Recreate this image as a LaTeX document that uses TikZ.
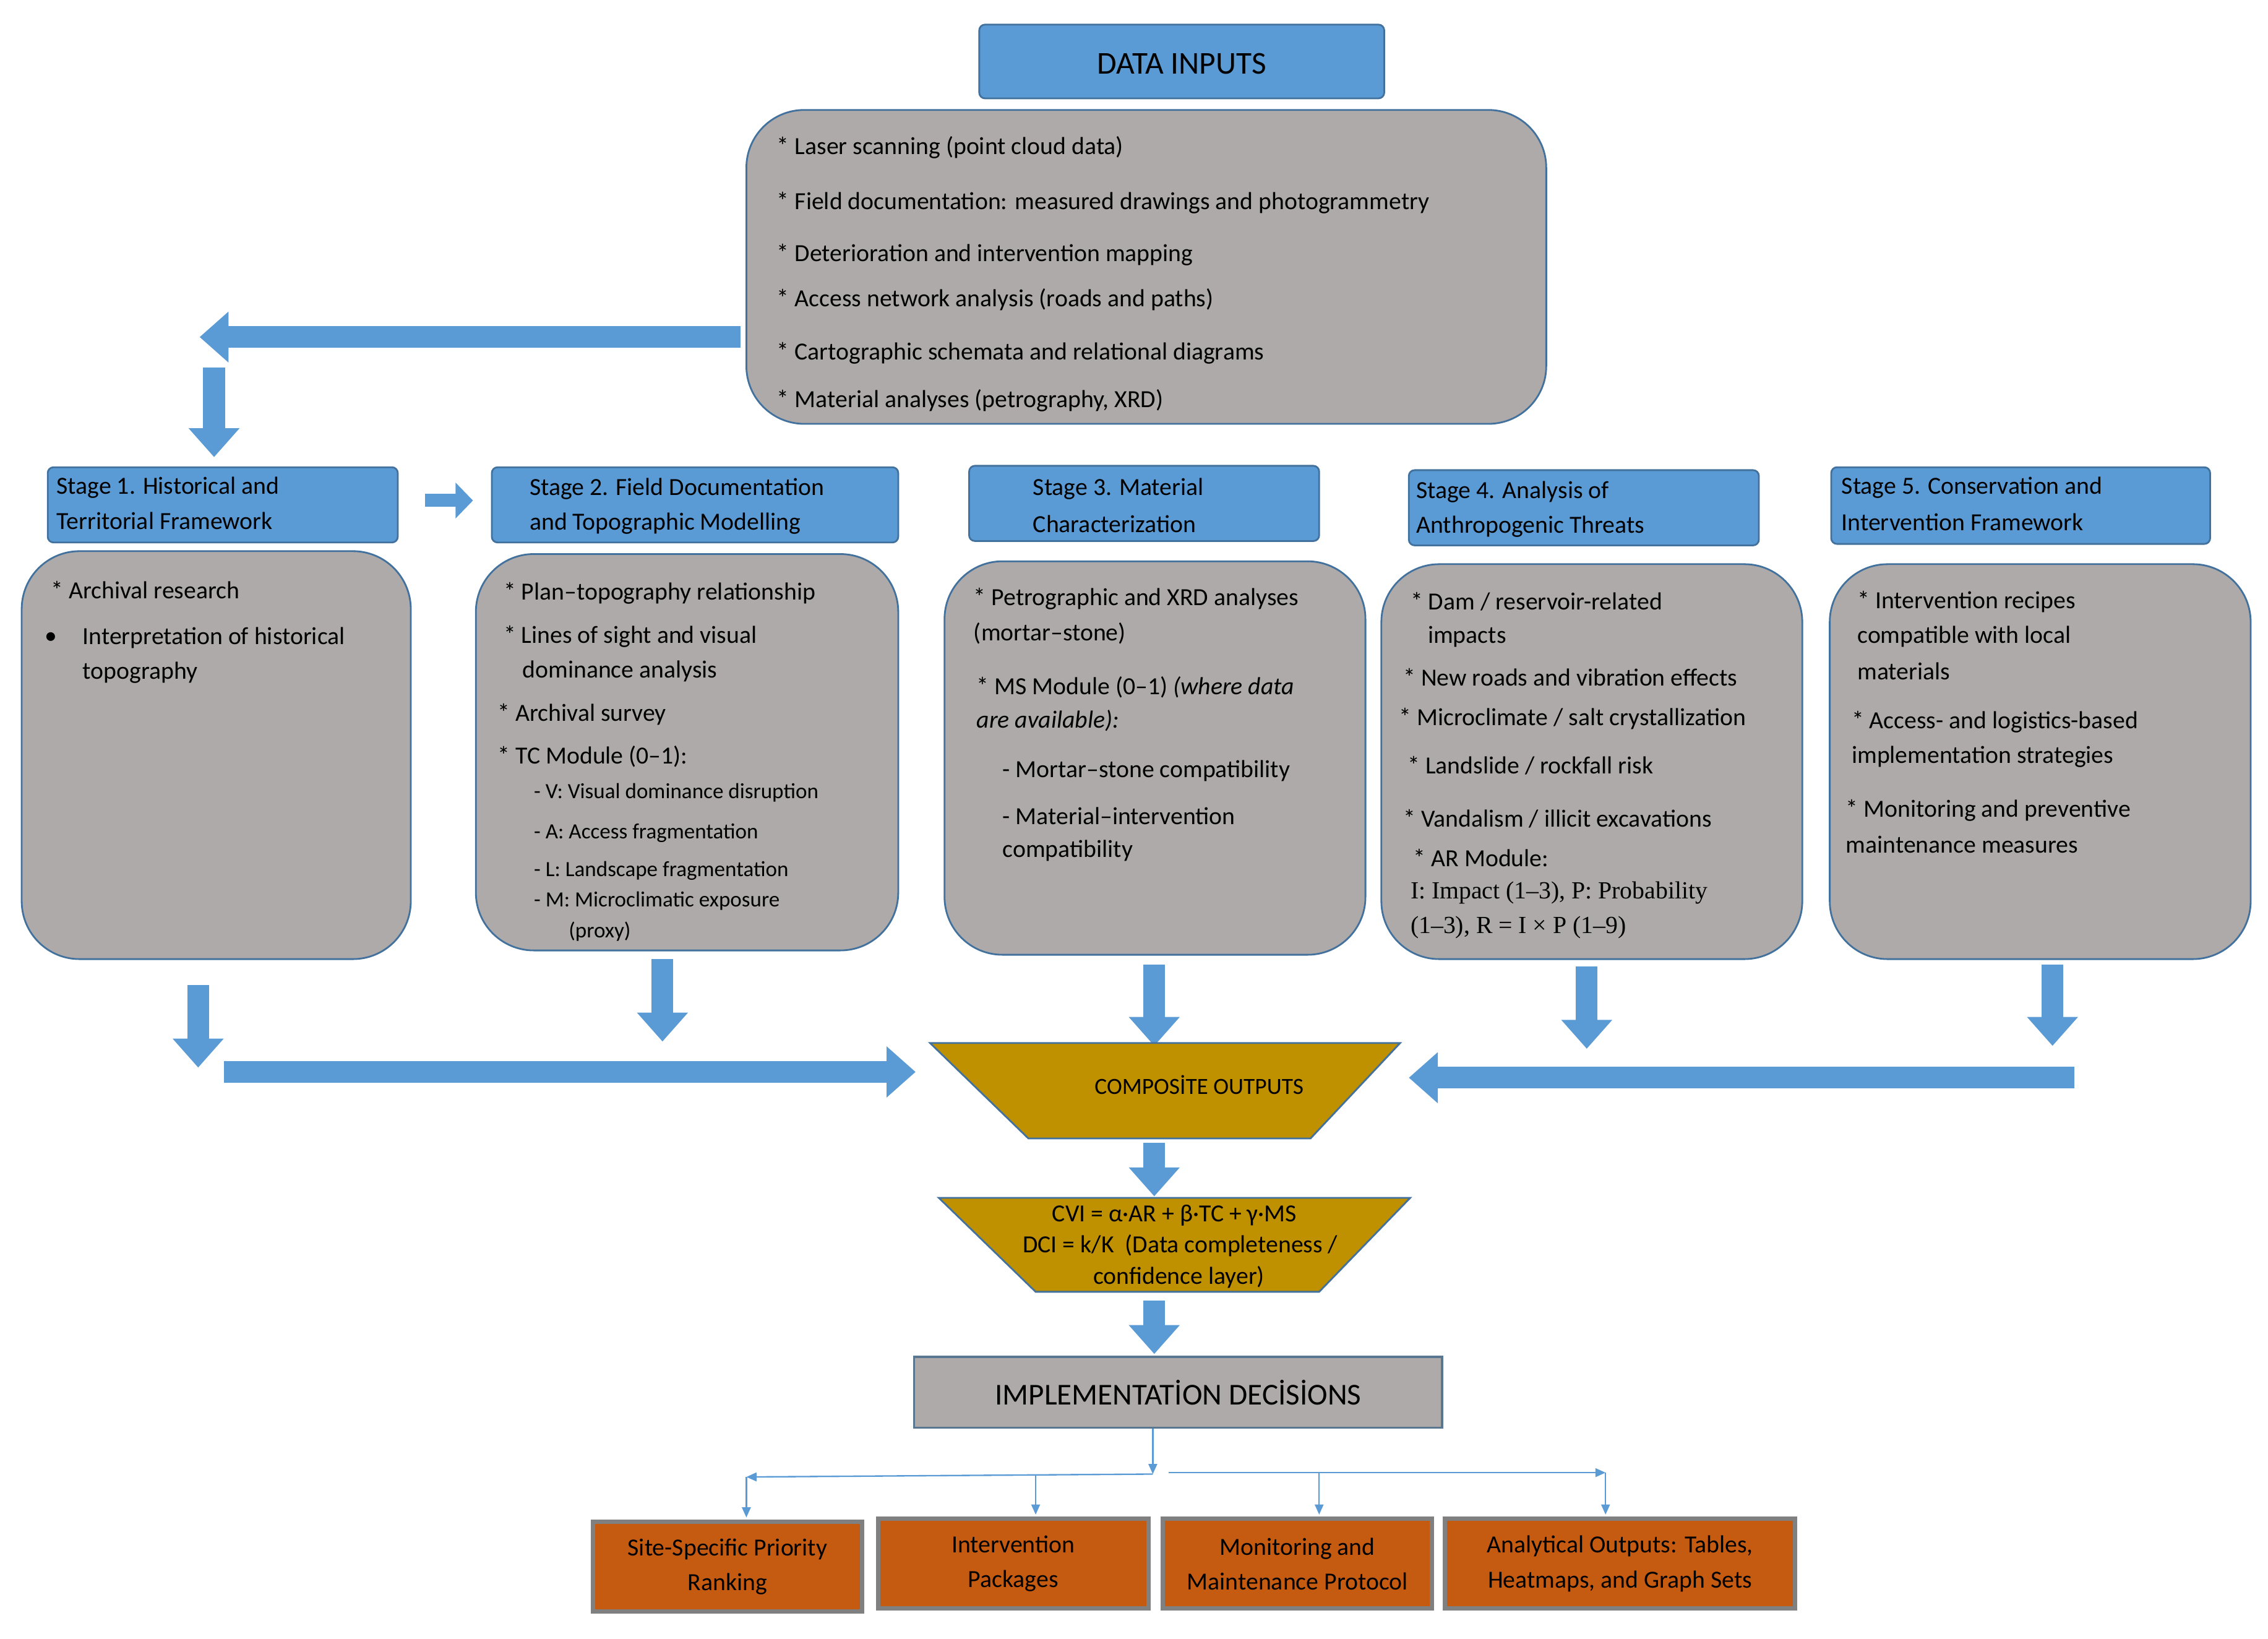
\documentclass[tikz,border=0pt]{standalone}
\usepackage{fontspec}
\setmainfont{Carlito}
\newfontfamily\serifed{Liberation Serif}
\usetikzlibrary{arrows.meta}
\definecolor{bl}{HTML}{5B9BD5}
\definecolor{bld}{HTML}{41719C}
\definecolor{gr}{HTML}{AEAAAA}
\definecolor{gold}{HTML}{BF9000}
\definecolor{org}{HTML}{C55A11}
\begin{document}
\begin{tikzpicture}[x=1pt,y=-1pt,
  hdr/.style={draw=bld,fill=bl,line width=1.2pt,rounded corners=4pt},
  gbox/.style={draw=bld,fill=gr,line width=1.2pt,rounded corners=40pt},
  t/.style={anchor=west,inner sep=0pt,font=\fontsize{17}{20}\selectfont},
  ts/.style={anchor=west,inner sep=0pt,font=\fontsize{15}{18}\selectfont},
  big/.style={bl,line width=15pt,-{Triangle[length=20pt,width=34pt]}},
  thin/.style={bl,line width=1pt},
  thinar/.style={bl,line width=1pt,-{Triangle[length=7pt,width=6pt]}},
  ob/.style={draw=gray,fill=org,line width=3pt,align=center,inner sep=0pt,font=\fontsize{17}{24}\selectfont}]
\useasboundingbox (0,0) rectangle (1568,1133);
% data inputs
\draw[hdr] (677,17) rectangle (957,68);
\node (di) at (817,44) {\fontsize{22}{26}\selectfont DATA INPUTS};
\draw[gbox] (516,76) rectangle (1069,293);
\node (dib) at (792,185) {};
\foreach \y/\s in {102/{* Laser scanning (point cloud data)},140/{* Field documentation: measured drawings and photogrammetry},176/{* Deterioration and intervention mapping},207/{* Access network analysis (roads and paths)},244/{* Cartographic schemata and relational diagrams},277/{* Material analyses (petrography, XRD)}}
  \node[t] at (537,\y) {\s};
\coordinate (a1) at (512,233); \coordinate (a2) at (138,233);
\draw[big] (a1) -- (a2);
\coordinate (a3) at (148,254); \coordinate (a4) at (148,316);
\draw[big] (a3) -- (a4);
% stage headers
\draw[hdr] (33,323) rectangle (275,375);
\draw[hdr] (340,323) rectangle (621,375);
\draw[hdr] (670,322) rectangle (912,374);
\draw[hdr] (974,325) rectangle (1216,377);
\draw[hdr] (1266,323) rectangle (1528,376);
\node[t] (s1) at (39,337) {Stage 1. Historical and}; \node[t] at (39,360) {Territorial Framework};
\node[t] (s2) at (366,338) {Stage 2. Field Documentation}; \node[t] at (366,362) {and Topographic Modelling};
\node[t] (s3) at (714,338) {Stage 3. Material}; \node[t] at (714,362) {Characterization};
\node[t] (s4) at (979,340) {Stage 4. Analysis of}; \node[t] at (979,364) {Anthropogenic Threats};
\node[t] (s5) at (1273,337) {Stage 5. Conservation and}; \node[t] at (1273,361) {Intervention Framework};
\coordinate (b1) at (294,346); \coordinate (b2) at (327,346);
\draw[bl,line width=9pt,-{Triangle[length=12pt,width=24pt]}] (b1) -- (b2);
% gray boxes
\draw[gbox] (15,381) rectangle (284,663);
\draw[gbox] (329,383) rectangle (621,657);
\draw[gbox] (653,388) rectangle (944,660);
\draw[gbox] (955,390) rectangle (1246,663);
\draw[gbox] (1265,390) rectangle (1556,663);
\node[t] at (35,408) {* Archival research};
\node[t] at (31,441) {•}; \node[t] at (57,441) {Interpretation of historical}; \node[t] at (57,465) {topography};
\node[t] at (348,410) {* Plan–topography relationship};
\node[t] at (348,440) {* Lines of sight and visual};
\node[t] at (361,464) {dominance analysis};
\node[t] at (344,494) {* Archival survey};
\node[t] at (344,523) {* TC Module (0–1):};
\node[ts] at (369,548) {- V: Visual dominance disruption};
\node[ts] at (369,576) {- A: Access fragmentation};
\node[ts] at (369,602) {- L: Landscape fragmentation};
\node[ts] at (369,623) {- M: Microclimatic exposure};
\node[ts] at (393,644) {(proxy)};
\node[t] at (673,414) {* Petrographic and XRD analyses};
\node[t] at (673,438) {(mortar–stone)};
\node[t] at (675,475) {* MS Module (0–1) \textit{(where data}};
\node[t] at (675,498) {\textit{are available):}};
\node[t] at (693,533) {- Mortar–stone compatibility};
\node[t] at (693,564) {- Material–intervention};
\node[t] at (693,588) {compatibility};
\node[t] at (975,416) {* Dam / reservoir-related};
\node[t] at (987,440) {impacts};
\node[t] at (970,468) {* New roads and vibration effects};
\node[t] at (967,497) {* Microclimate / salt crystallization};
\node[t] at (973,529) {* Landslide / rockfall risk};
\node[t] at (970,566) {* Vandalism / illicit excavations};
\node[t] at (977,593) {* AR Module:};
\node[t,font=\serifed\fontsize{17}{20}\selectfont] at (975,617) {I: Impact (1–3), P: Probability};
\node[t,font=\serifed\fontsize{17}{20}\selectfont] at (975,641) {(1–3), R = I × P (1–9)};
\node[t] at (1284,416) {* Intervention recipes};
\node[t] at (1284,440) {compatible with local};
\node[t] at (1284,464) {materials};
\node[t] at (1280,499) {* Access- and logistics-based};
\node[t] at (1280,523) {implementation strategies};
\node[t] at (1276,560) {* Monitoring and preventive};
\node[t] at (1276,584) {maintenance measures};
% down arrows
\foreach \x/\ya/\yb in {137/681/738,458/663/720,798/667/723,1097/668/725,1419/667/723}
  \draw[big] (\x,\ya) -- (\x,\yb);
\coordinate (c1) at (155,741); \coordinate (c2) at (633,741);
\draw[big] (c1) -- (c2);
\coordinate (c3) at (1434,745); \coordinate (c4) at (974,745);
\draw[big] (c3) -- (c4);
% trapezoids
\draw[draw=bld,fill=gold,line width=1.2pt] (643,721) -- (968,721) -- (906,787) -- (711,787) -- cycle;
\node (co) at (829,750) {\fontsize{16}{20}\selectfont COMPOSİTE OUTPUTS};
\draw[big] (798,790) -- (798,827);
\draw[draw=bld,fill=gold,line width=1.2pt] (649,828) -- (975,828) -- (912,893) -- (716,893) -- cycle;
\node[inner sep=0pt] (cvi) at (812,840) {\fontsize{17}{20}\selectfont CVI = α·AR + β·TC + γ·MS};
\node[inner sep=0pt] at (816,861) {\fontsize{17}{20}\selectfont DCI = k/K\ \ (Data completeness /};
\node[inner sep=0pt] at (815,883) {\fontsize{17}{20}\selectfont confidence layer)};
\draw[big] (798,899) -- (798,936);
% implementation
\node[draw=bld!60!gray,fill=gr,line width=1.5pt,minimum width=365pt,minimum height=49pt,inner sep=0pt] (imp) at (814.5,962.5) {\fontsize{21}{24}\selectfont IMPLEMENTATİON DECİSİONS};
\coordinate (j) at (797,1019);
\draw[thinar] (imp.south -| j) -- (j);
\draw[thinar] (j) -- (516,1021);
\draw[thinar] (808,1018) -- (1110,1018);
\draw[thinar] (516,1021) -- (516,1049);
\draw[thinar] (716,1020) -- (716,1047);
\draw[thinar] (912,1018) -- (912,1047);
\draw[thinar] (1110,1018) -- (1110,1047);
% output boxes
\node[ob,minimum width=186pt,minimum height=62pt] (o1) at (503,1083) {Site-Specific Priority\\Ranking};
\node[ob,minimum width=187pt,minimum height=62pt] (o2) at (700.5,1081) {Intervention\\Packages};
\node[ob,minimum width=186pt,minimum height=62pt] (o3) at (897,1081) {Monitoring and\\Maintenance Protocol};
\node[ob,minimum width=242pt,minimum height=62pt] (o4) at (1120,1081) {Analytical Outputs: Tables,\\Heatmaps, and Graph Sets};
\end{tikzpicture}
\end{document}
